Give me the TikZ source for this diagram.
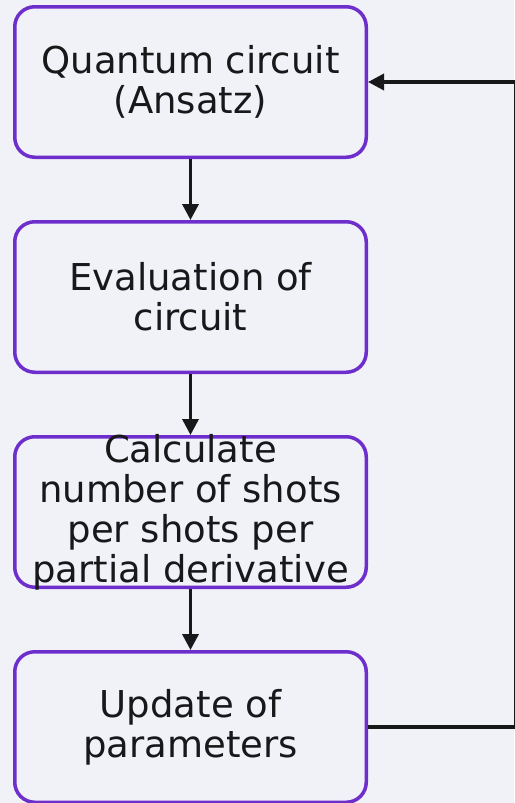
\documentclass[tikz,border=0pt]{standalone}
\usepackage{fontspec}
\setmainfont{DejaVu Sans}
\usetikzlibrary{arrows.meta,positioning}
\definecolor{bgcol}{RGB}{241,242,248}
\definecolor{boxline}{RGB}{110,46,204}
\definecolor{ink}{RGB}{24,24,26}

\begin{document}
\begin{tikzpicture}[
    x=1pt, y=-1pt,
    node distance=61pt,
    stepbox/.style={rectangle, rounded corners=20pt, draw=boxline, line width=3.5pt, fill=bgcol,
                    minimum width=351.5pt, minimum height=150.5pt},
    txt/.style={align=center, text=ink, inner sep=0pt, font=\fontsize{37}{40}\selectfont},
    flow/.style={-{Triangle[length=16pt,width=16pt]}, draw=ink, line width=3.5pt}
]
\fill[bgcol] (0,0) rectangle (514,803);
\useasboundingbox (0,0) rectangle (514,803);
\node[stepbox] (b1) at (190.5,82) {};
\node[stepbox, below=of b1] (b2) {};
\node[stepbox, below=of b2] (b3) {};
\node[stepbox, below=of b3] (b4) {};
\node[txt] (t1) at (b1) {Quantum circuit\\(Ansatz)};
\node[txt] (t2) at (b2) {Evaluation of\\circuit};
\node[txt] (t3) at (b3) {Calculate\\number of shots\\per shots per\\partial derivative};
\node[txt] (t4) at (b4) {Update of\\parameters};
\draw[flow] (b1)--(b2); \draw[flow] (b2)--(b3); \draw[flow] (b3)--(b4);
\draw[flow] (b4.east) -- ++(147.5,0) |- (b1.east);
\end{tikzpicture}
\end{document}
